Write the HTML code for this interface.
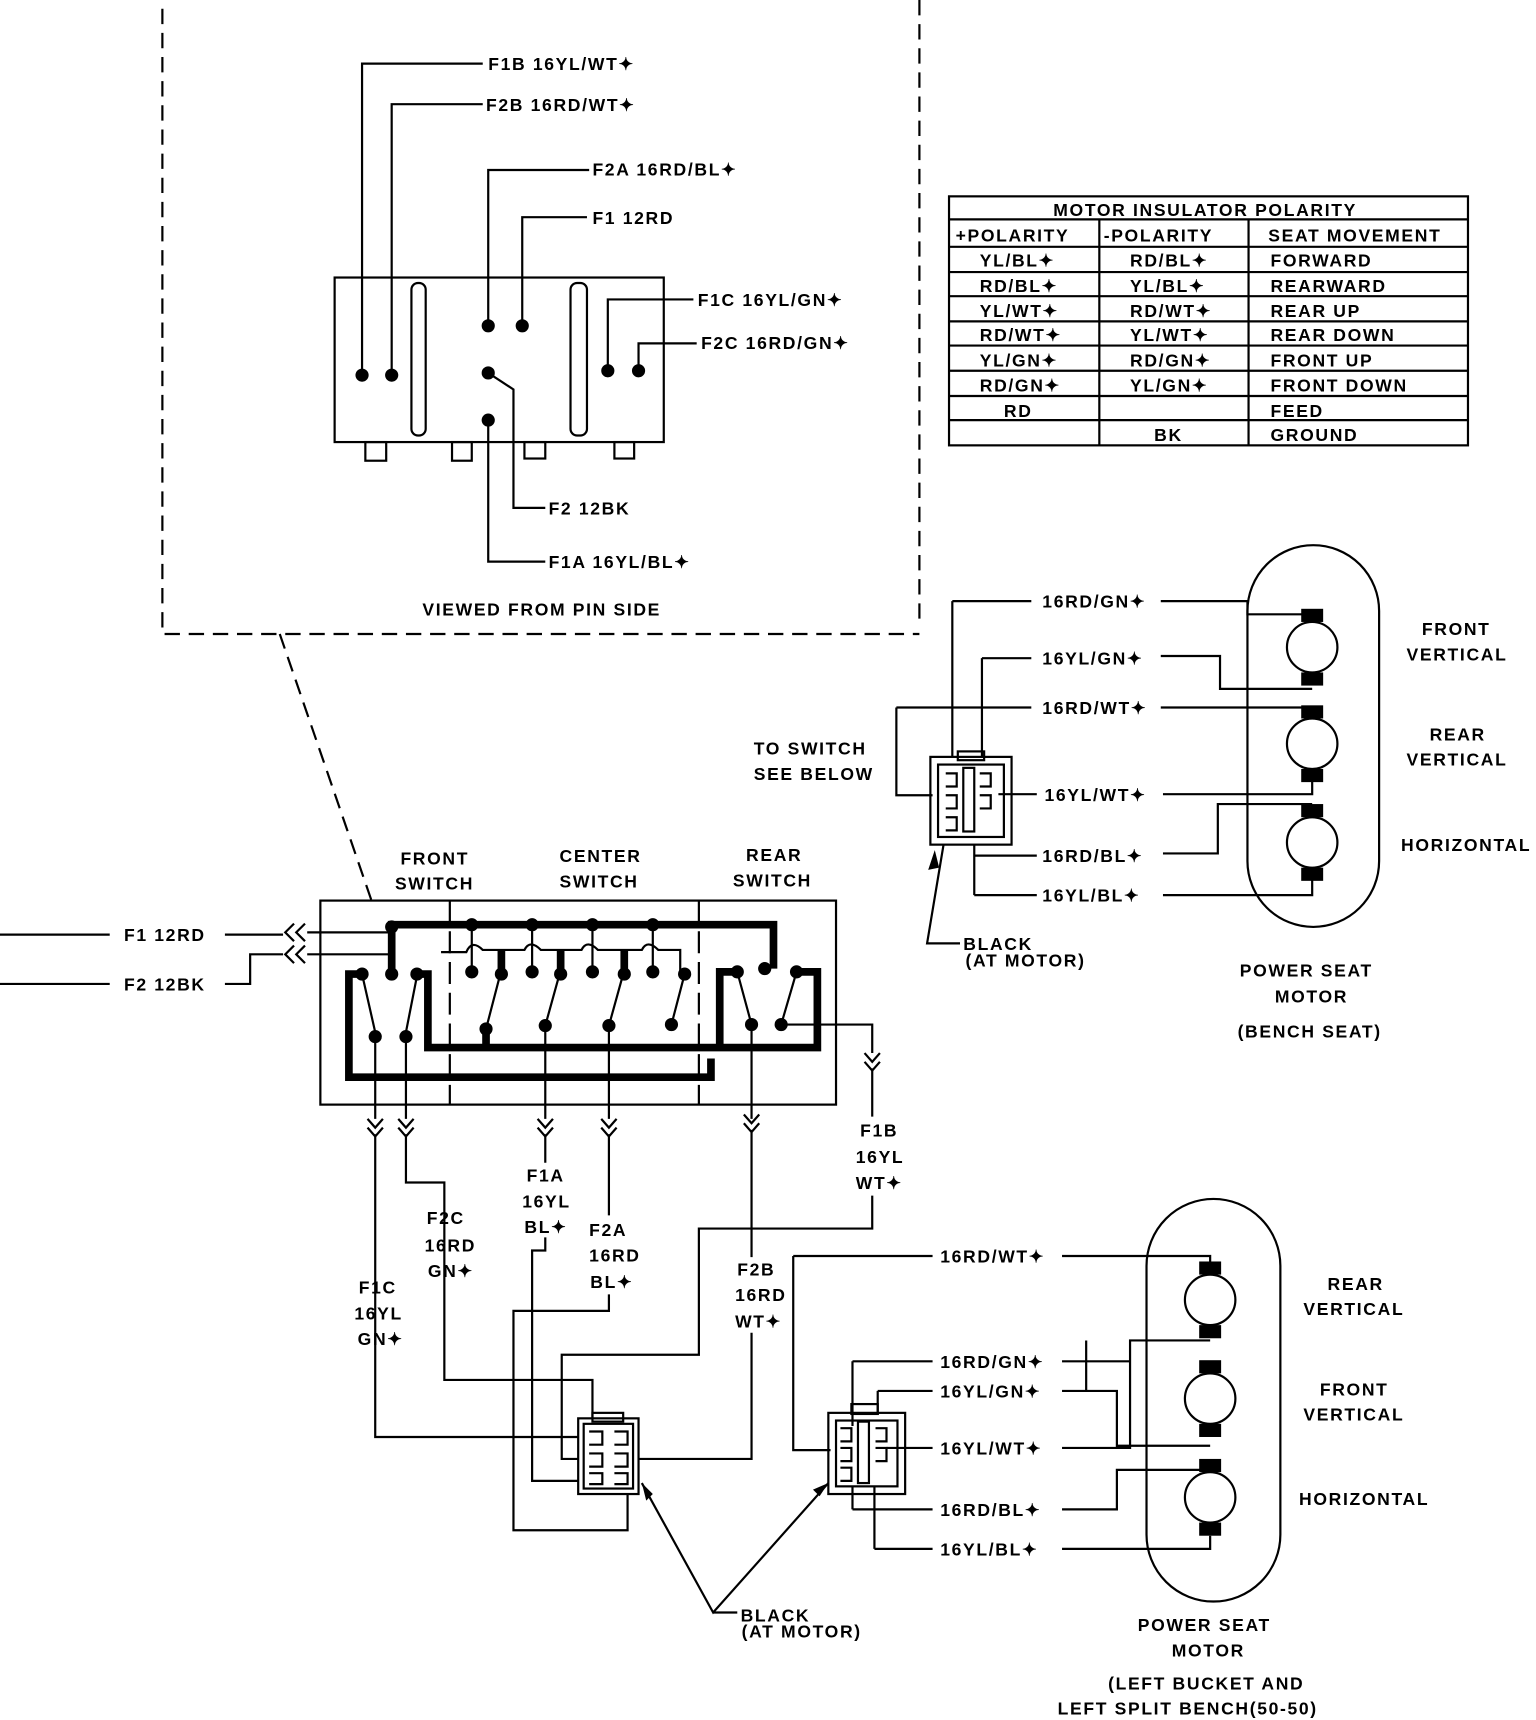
<!DOCTYPE html>
<html><head><style>
html,body{margin:0;padding:0;background:#fff;}
svg{display:block;}
text{font-family:"Liberation Sans",sans-serif;font-size:16px;font-weight:bold;fill:#000;letter-spacing:1.5px;}
</style></head><body>
<svg width="1536" height="1720" viewBox="0 0 1400 1568" preserveAspectRatio="none" xmlns="http://www.w3.org/2000/svg">
<defs>
<g id="chev"><path d="M-7,-8 L0,0 L7,-8 M-7,0 L0,8 L7,0" fill="none" stroke="#000" stroke-width="2"/></g>
<g id="dot"><circle r="6" fill="#000"/></g>
</defs>
<g fill="none" stroke="#000" stroke-width="2">
<!-- dashed box -->
<path d="M148,8 V578 H838 M838,0 V570" stroke-dasharray="14,8"/>
<path d="M255,578 L340,825" stroke-dasharray="14,8"/>
<!-- pin connector -->
<rect x="305" y="253" width="300" height="150"/>
<rect x="375" y="258" width="13" height="139" rx="6"/>
<rect x="520" y="258" width="15" height="139" rx="6"/>
<rect x="333" y="403" width="19" height="17"/><rect x="412" y="403" width="18" height="17"/>
<rect x="478" y="403" width="19" height="15"/><rect x="560" y="403" width="18" height="15"/>
<path d="M330,342 V58 H440 M357,342 V95 H440 M445,297 V155 H537 M476,297 V198 H535 M554,338 V273 H632 M582,338 V313 H635 M445,340 L468,355 V463 H497 M445,383 V512 H497"/>
</g>
<g fill="#000"><use href="#dot" x="330" y="342"/><use href="#dot" x="357" y="342"/><use href="#dot" x="445" y="297"/><use href="#dot" x="476" y="297"/><use href="#dot" x="554" y="338"/><use href="#dot" x="582" y="338"/><use href="#dot" x="445" y="340"/><use href="#dot" x="445" y="383"/></g>
<text x="445" y="64">F1B 16YL/WT✦</text>
<text x="443" y="101">F2B 16RD/WT✦</text>
<text x="540" y="160">F2A 16RD/BL✦</text>
<text x="540" y="204">F1 12RD</text>
<text x="636" y="279">F1C 16YL/GN✦</text>
<text x="639" y="318">F2C 16RD/GN✦</text>
<text x="500" y="469">F2 12BK</text>
<text x="500" y="518">F1A 16YL/BL✦</text>
<text x="385" y="561">VIEWED FROM PIN SIDE</text>

<!-- table -->
<g fill="none" stroke="#000" stroke-width="2">
<rect x="865" y="179" width="473" height="227"/>
<path d="M865,200 H1338 M865,225 H1338 M865,248 H1338 M865,270 H1338 M865,293 H1338 M865,315 H1338 M865,338 H1338 M865,361 H1338 M865,383 H1338 M1002,200 V406 M1138,200 V406"/>
</g>
<g style="font-size:15px">
<text x="960" y="197">MOTOR INSULATOR POLARITY</text>
<text x="871" y="220">+POLARITY</text><text x="1006" y="220">-POLARITY</text><text x="1156" y="220">SEAT MOVEMENT</text>
<text x="893" y="243">YL/BL✦</text><text x="1030" y="243">RD/BL✦</text><text x="1158" y="243">FORWARD</text>
<text x="893" y="266">RD/BL✦</text><text x="1030" y="266">YL/BL✦</text><text x="1158" y="266">REARWARD</text>
<text x="893" y="289">YL/WT✦</text><text x="1030" y="289">RD/WT✦</text><text x="1158" y="289">REAR UP</text>
<text x="893" y="311">RD/WT✦</text><text x="1030" y="311">YL/WT✦</text><text x="1158" y="311">REAR DOWN</text>
<text x="893" y="334">YL/GN✦</text><text x="1030" y="334">RD/GN✦</text><text x="1158" y="334">FRONT UP</text>
<text x="893" y="357">RD/GN✦</text><text x="1030" y="357">YL/GN✦</text><text x="1158" y="357">FRONT DOWN</text>
<text x="915" y="380">RD</text><text x="1158" y="380">FEED</text>
<text x="1052" y="402">BK</text><text x="1158" y="402">GROUND</text>
</g>

<!-- bench motor -->
<g fill="none" stroke="#000" stroke-width="2">
<rect x="1137" y="497" width="120" height="348" rx="60"/>
<circle cx="1196" cy="590" r="23"/><circle cx="1196" cy="678" r="23"/><circle cx="1196" cy="768" r="23"/>
<path d="M868,548 H940 M868,548 V690 M895,600 H940 M895,600 V690 M817,645 H940 M817,645 V725 H850 M910,724 H945 M888,780 H945 M888,770 V780 M888,816 H945 M888,770 V816"/>
<path d="M1058,548 H1137 V560 H1196 M1058,598 H1112 V628 H1196 M1058,645 H1196 V655 M1060,724 H1196 V705 M1060,778 H1110 V733 H1196 M1060,816 H1196 V795"/>
<rect x="848" y="690" width="74" height="80"/><rect x="855" y="697" width="60" height="66"/>
<rect x="873" y="685" width="24" height="8"/>
<rect x="878" y="700" width="10" height="58"/>
<path d="M862,705 h10 v12 h-10 M862,725 h10 v12 h-10 M862,745 h10 v12 h-10 M893,705 h10 v12 h-10 M893,725 h10 v12 h-10"/>
<path d="M860,770 L845,860 H875"/>
</g>
<g fill="#000"><rect x="1186" y="555" width="20" height="12"/><rect x="1186" y="613" width="20" height="12"/><rect x="1186" y="643" width="20" height="12"/><rect x="1186" y="701" width="20" height="12"/><rect x="1186" y="733" width="20" height="12"/><rect x="1186" y="791" width="20" height="12"/>
<path d="M852,775 l-6,18 l10,-2 z"/></g>
<text x="950" y="554">16RD/GN✦</text>
<text x="950" y="606">16YL/GN✦</text>
<text x="950" y="651">16RD/WT✦</text>
<text x="952" y="730">16YL/WT✦</text>
<text x="950" y="786">16RD/BL✦</text>
<text x="950" y="822">16YL/BL✦</text>
<text x="1296" y="579">FRONT</text><text x="1282" y="602">VERTICAL</text>
<text x="1303" y="675">REAR</text><text x="1282" y="698">VERTICAL</text>
<text x="1277" y="776">HORIZONTAL</text>
<text x="687" y="688">TO SWITCH</text><text x="687" y="711">SEE BELOW</text>
<text x="878" y="866">BLACK</text><text x="880" y="881">(AT MOTOR)</text>
<text x="1130" y="890">POWER SEAT</text><text x="1162" y="914">MOTOR</text><text x="1128" y="946">(BENCH SEAT)</text>

<!-- switch box -->
<g fill="none" stroke="#000" stroke-width="2">
<rect x="292" y="821" width="470" height="186"/>
<path d="M410,821 V1007 M637,821 V1007" stroke-dasharray="20,8"/>
<path d="M0,852 H100 M205,852 H258 M268,842 l-8,8 l8,8 M278,842 l-8,8 l8,8 M280,850 H355"/>
<path d="M0,897 H100 M205,897 H228 V870 H258 M268,862 l-8,8 l8,8 M278,862 l-8,8 l8,8 M280,870 H355"/>
<path d="M402,868 H425 Q430,856 440,866 H478 Q483,856 493,866 H530 Q535,856 545,866 H585 Q590,856 600,866 H620 V890"/>
<path d="M430,843 V883 M485,843 V883 M540,843 V883 M595,843 V883"/>
<path d="M342,941 L330,888 M370,941 L380,890 M443,938 L456,888 M497,935 L510,888 M555,935 L568,888 M612,934 L624,888 M685,934 L672,886 M712,934 L726,886"/>
<path d="M342,941 V1020 M370,941 V1020 M497,935 V1020 M555,935 V1020 M685,934 V1020 M712,934 H795 V960"/>
</g>
<g fill="none" stroke="#000" stroke-width="7">
<path d="M357,888 V843 H705 V883"/>
<path d="M330,888 H318 V982 H648 V965"/>
<path d="M380,888 H390 V955 H745 V886 H726"/>
<path d="M457,888 V866 M511,888 V866 M569,888 V866 M443,938 V955"/>
<path d="M672,886 H656 V955"/>
</g>
<g fill="#000">
<use href="#dot" x="357" y="888"/><use href="#dot" x="330" y="888"/><use href="#dot" x="380" y="888"/>
<use href="#dot" x="430" y="886"/><use href="#dot" x="457" y="888"/><use href="#dot" x="485" y="886"/><use href="#dot" x="511" y="888"/><use href="#dot" x="540" y="886"/><use href="#dot" x="569" y="888"/><use href="#dot" x="595" y="886"/><use href="#dot" x="624" y="888"/>
<use href="#dot" x="672" y="886"/><use href="#dot" x="697" y="883"/><use href="#dot" x="726" y="886"/>
<use href="#dot" x="342" y="945"/><use href="#dot" x="370" y="945"/><use href="#dot" x="443" y="938"/><use href="#dot" x="497" y="935"/><use href="#dot" x="555" y="935"/><use href="#dot" x="612" y="934"/><use href="#dot" x="685" y="934"/><use href="#dot" x="712" y="934"/>
<use href="#dot" x="357" y="845"/><use href="#dot" x="430" y="843"/><use href="#dot" x="485" y="843"/><use href="#dot" x="540" y="843"/><use href="#dot" x="595" y="843"/>
</g>
<text x="365" y="788">FRONT</text><text x="360" y="811">SWITCH</text>
<text x="510" y="786">CENTER</text><text x="510" y="809">SWITCH</text>
<text x="680" y="785">REAR</text><text x="668" y="808">SWITCH</text>
<text x="113" y="858">F1 12RD</text>
<text x="113" y="903">F2 12BK</text>

<!-- lower wiring -->
<use href="#chev" x="342" y="1028"/><use href="#chev" x="370" y="1028"/><use href="#chev" x="497" y="1028"/><use href="#chev" x="555" y="1028"/><use href="#chev" x="685" y="1024"/><use href="#chev" x="795" y="968"/>
<g fill="none" stroke="#000" stroke-width="2">
<path d="M342,1034 V1310 H527"/>
<path d="M370,1034 V1078 H405 V1258 H540 V1293"/>
<path d="M497,1034 V1060 M497,1128 V1140 H485 V1350 H527"/>
<path d="M555,1034 V1108 M555,1180 V1195 H468 V1395 H572 V1362"/>
<path d="M685,1030 V1146 M685,1215 V1330 H582"/>
<path d="M795,974 V1018 M795,1090 V1120 H637 V1235 H512 V1330 H527"/>
<rect x="527" y="1293" width="55" height="69"/><rect x="532" y="1298" width="45" height="59"/>
<rect x="540" y="1288" width="28" height="8"/>
<path d="M537,1305 h12 v12 h-12 M537,1325 h12 v12 h-12 M537,1343 h12 v10 h-12 M560,1305 h12 v12 h-12 M560,1325 h12 v12 h-12 M560,1343 h12 v10 h-12"/>
<path d="M585,1352 L650,1470 L755,1352 M650,1470 H672"/>
<!-- bucket connector -->
<rect x="755" y="1288" width="70" height="74"/><rect x="762" y="1295" width="56" height="60"/>
<rect x="776" y="1280" width="24" height="9"/>
<rect x="782" y="1296" width="10" height="56"/>
<path d="M766,1302 h10 v12 h-10 M766,1320 h10 v12 h-10 M766,1338 h10 v12 h-10 M798,1302 h10 v12 h-10 M798,1320 h10 v12 h-10"/>
<path d="M723,1145 H850 M723,1145 V1322 H757 M777,1241 H850 M777,1241 V1300 M800,1268 H850 M800,1268 V1290 M808,1320 H850 M777,1376 H850 M777,1355 V1376 M797,1412 H850 M797,1355 V1412"/>
<path d="M968,1145 H1103 V1155 M968,1241 H1030 V1222 H1103 M968,1268 H990 V1222 M990,1268 H1018 V1318 H1103 M968,1320 H1030 V1222 M968,1376 H1018 V1340 H1103 M968,1412 H1103 V1400"/>
<rect x="1045" y="1093" width="122" height="367" rx="61"/>
<circle cx="1103" cy="1185" r="23"/><circle cx="1103" cy="1275" r="23"/><circle cx="1103" cy="1365" r="23"/>
</g>
<g fill="#000">
<rect x="1093" y="1150" width="20" height="12"/><rect x="1093" y="1208" width="20" height="12"/>
<rect x="1093" y="1240" width="20" height="12"/><rect x="1093" y="1298" width="20" height="12"/>
<rect x="1093" y="1330" width="20" height="12"/><rect x="1093" y="1388" width="20" height="12"/>
<path d="M585,1352 l4,16 l6,-6 z"/><path d="M755,1352 l-14,6 l6,6 z"/>
</g>
<text x="327" y="1179">F1C</text><text x="323" y="1203">16YL</text><text x="326" y="1226">GN✦</text>
<text x="389" y="1116">F2C</text><text x="387" y="1141">16RD</text><text x="390" y="1164">GN✦</text>
<text x="480" y="1077">F1A</text><text x="476" y="1101">16YL</text><text x="478" y="1124">BL✦</text>
<text x="537" y="1127">F2A</text><text x="537" y="1150">16RD</text><text x="538" y="1174">BL✦</text>
<text x="672" y="1163">F2B</text><text x="670" y="1186">16RD</text><text x="670" y="1210">WT✦</text>
<text x="784" y="1036">F1B</text><text x="780" y="1060">16YL</text><text x="780" y="1084">WT✦</text>
<text x="675" y="1478">BLACK</text><text x="676" y="1493">(AT MOTOR)</text>
<text x="857" y="1151">16RD/WT✦</text>
<text x="857" y="1247">16RD/GN✦</text>
<text x="857" y="1274">16YL/GN✦</text>
<text x="857" y="1326">16YL/WT✦</text>
<text x="857" y="1382">16RD/BL✦</text>
<text x="857" y="1418">16YL/BL✦</text>
<text x="1210" y="1176">REAR</text><text x="1188" y="1199">VERTICAL</text>
<text x="1203" y="1272">FRONT</text><text x="1188" y="1295">VERTICAL</text>
<text x="1184" y="1372">HORIZONTAL</text>
<text x="1037" y="1487">POWER SEAT</text><text x="1068" y="1510">MOTOR</text>
<text x="1010" y="1540">(LEFT BUCKET AND</text><text x="964" y="1563">LEFT SPLIT BENCH(50-50)</text>
</svg>
</body></html>
